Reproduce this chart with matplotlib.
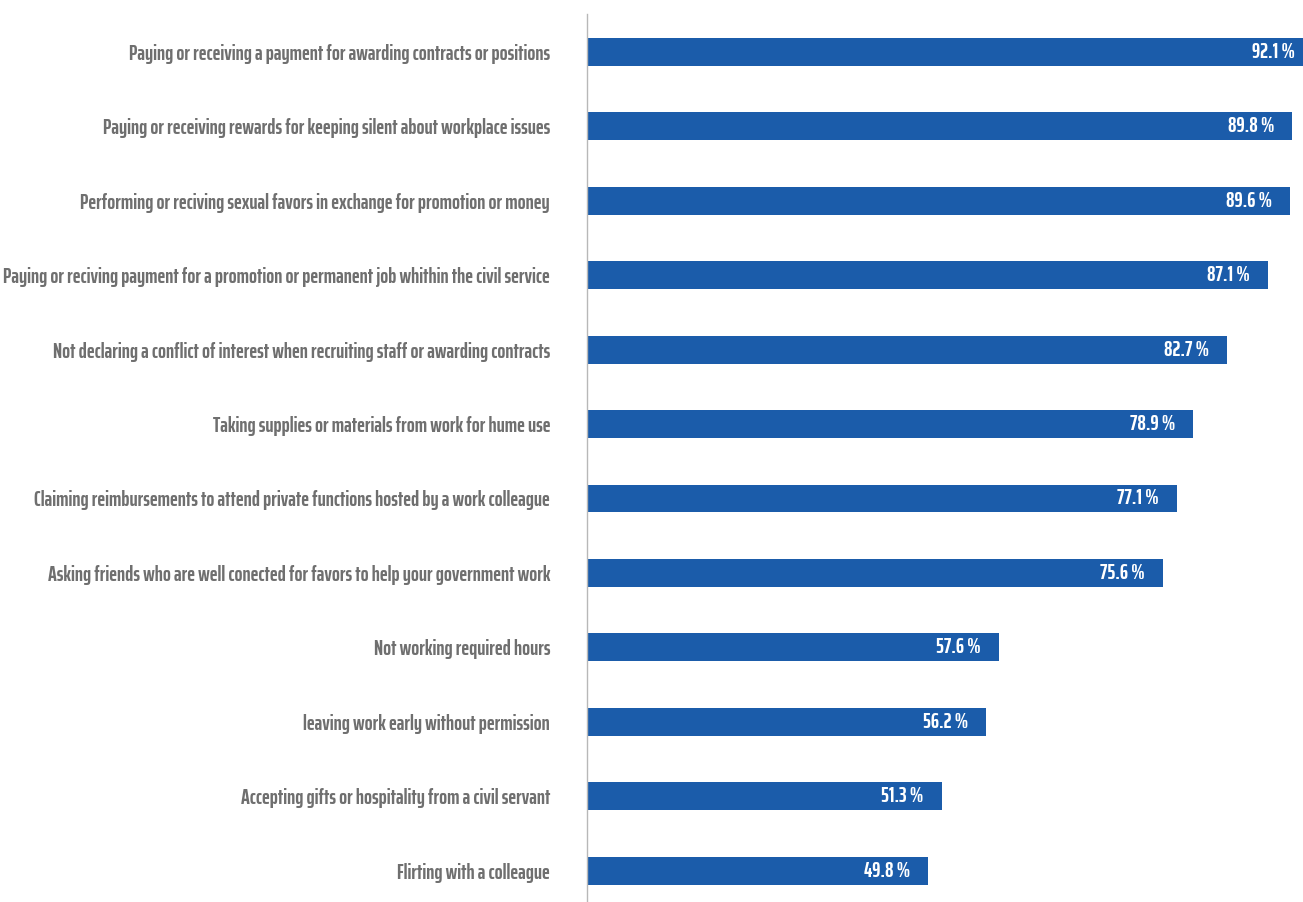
import matplotlib
matplotlib.use("Agg")
import matplotlib.pyplot as plt

categories = [
    "Paying or receiving a payment for awarding contracts or positions",
    "Paying or receiving rewards for keeping silent about workplace issues",
    "Performing or reciving sexual favors in exchange for promotion or money",
    "Paying or reciving payment for a promotion or permanent job whithin the civil service",
    "Not declaring a conflict of interest when recruiting staff or awarding contracts",
    "Taking supplies or materials from work for hume use",
    "Claiming reimbursements to attend private functions hosted by a work colleague",
    "Asking friends who are well conected for favors to help your government work",
    "Not working required hours",
    "leaving work early without permission",
    "Accepting gifts or hospitality from a civil servant",
    "Flirting with a colleague",
]
values = [92.1, 89.8, 89.6, 87.1, 82.7, 78.9, 77.1, 75.6, 57.6, 56.2, 51.3, 49.8]

BLUE = "#1b5caa"
GREY = "#6f6f6f"
FONT = dict(family=["Saira ExtraCondensed", "DejaVu Sans"], weight="bold")

fig = plt.figure(figsize=(13.03, 9.02), dpi=100)
ax = fig.add_axes([587 / 1303, 0.0, 1 - 587 / 1303, 1 - 14 / 902])

ypos = list(range(len(categories)))
ax.barh(ypos, values, height=0.375, color=BLUE)

# value labels sit just inside the bar end
for y, v in zip(ypos, values):
    ax.annotate(f"{v} %", xy=(v, y), xytext=(-18, 0), textcoords="offset pixels",
                ha="right", va="center", color="white", fontsize=15,
                annotation_clip=False, **FONT)

ax.set_xlim(12.3, 91.0)
ax.set_ylim(11.42, -0.508)
ax.set_yticks(ypos)
ax.set_yticklabels(categories, color=GREY, fontsize=15, **FONT)
ax.tick_params(axis="y", length=0, pad=26.6)
ax.set_xticks([])
for side in ["top", "right", "bottom"]:
    ax.spines[side].set_visible(False)
ax.spines["left"].set_color("#b8b8b8")
ax.spines["left"].set_linewidth(1)

fig.savefig("out.png", dpi=100)
